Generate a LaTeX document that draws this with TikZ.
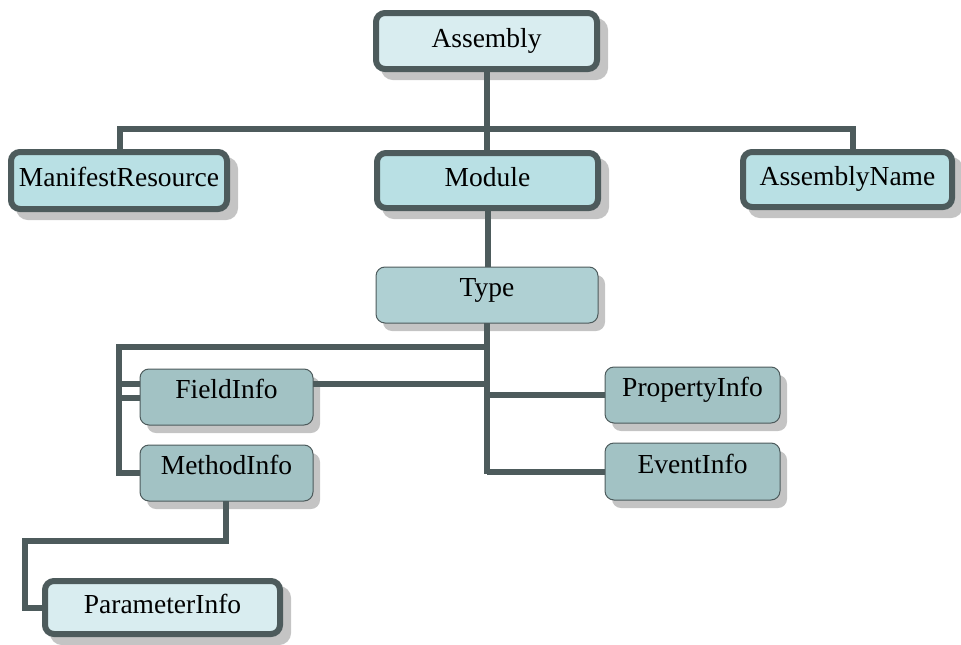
\documentclass[tikz,border=0pt]{standalone}
\usepackage{fontspec}
\setmainfont{Liberation Serif}
\definecolor{edge}{HTML}{4D5B5C}
\definecolor{palefill}{HTML}{D9EDF0}
\definecolor{cyanfill}{HTML}{B9E0E4}
\definecolor{typefill}{HTML}{AFD0D3}
\definecolor{memfill}{HTML}{A2C2C4}
\definecolor{shade}{HTML}{C4C4C4}
\tikzset{
  box/.style={rounded corners=9pt, inner sep=0pt, outer sep=0pt, align=center,
    font=\fontsize{27.5}{30}\selectfont, text height=19pt},
  thickbox/.style={box, draw=edge, line width=6pt, text depth=7pt,
    preaction={fill=shade, draw=shade, line width=6pt, transform canvas={xshift=8pt,yshift=-8pt}}},
  thinbox/.style={box, draw=edge, line width=1pt, text depth=16pt,
    preaction={fill=shade, transform canvas={xshift=7pt,yshift=-8pt}}},
  conn/.style={draw=edge, line width=6pt, line join=miter}
}
\begin{document}
\begin{tikzpicture}[x=1pt,y=-1pt]
\useasboundingbox (0,0) rectangle (961,645);
% nodes
\node[thickbox, fill=palefill, minimum width=221pt, minimum height=56pt] (asm) at (486.5,41) {Assembly};
\node[thickbox, fill=cyanfill, minimum width=216pt, minimum height=57pt] (mr) at (119,180.5) {ManifestResource};
\node[thickbox, fill=cyanfill, minimum width=221pt, minimum height=55pt] (mod) at (487.5,180.5) {Module};
\node[thickbox, fill=cyanfill, minimum width=209pt, minimum height=55pt] (an) at (847.5,179.5) {AssemblyName};
\node[thinbox, fill=typefill, minimum width=222pt, minimum height=56pt] (type) at (487,295) {Type};
\node[thinbox, fill=memfill, minimum width=173pt, minimum height=56pt] (fi) at (226.5,397) {FieldInfo};
\node[thinbox, fill=memfill, minimum width=173pt, minimum height=56pt] (mi) at (226.5,473) {MethodInfo};
\node[thinbox, fill=memfill, minimum width=175pt, minimum height=56pt] (pi) at (692.5,395) {PropertyInfo};
\node[thinbox, fill=memfill, minimum width=175pt, minimum height=57pt] (ei) at (692.5,471.5) {EventInfo};
\node[thickbox, fill=palefill, minimum width=235pt, minimum height=53pt] (pm) at (162.5,607.5) {ParameterInfo};
% helper coordinates
\coordinate (barL) at (120,129);
\coordinate (barR) at (853,129);
\coordinate (tbot) at (487,474);
\coordinate (lbar) at (118.5,347);
\coordinate (mdrop) at (226,541);
\coordinate (pbar) at (24.5,541);
% connectors
\draw[conn] (asm.south) -- (asm.south |- mod.north);
\draw[conn] (barL |- mr.north) -- (barL) -- (barR) -- (barR |- an.north);
\draw[conn] (mod.south) -- (mod.south |- type.north);
\draw[conn] (type.south) -- (tbot);
\draw[conn] (tbot |- lbar) -- (lbar) |- (mi.west);
\draw[conn] (lbar |- 0,384) -- (fi.west |- 0,384);
\draw[conn] (lbar |- 0,397.5) -- (fi.west |- 0,397.5);
\draw[conn] (fi.east |- 0,384) -- (tbot |- 0,384);
\draw[conn] (tbot |- pi.west) -- (pi.west);
\draw[conn] (tbot |- ei.west) -- (ei.west);
\draw[conn] (mdrop |- mi.south) -- (mdrop) -- (pbar) |- (pm.west);
\end{tikzpicture}
\end{document}
